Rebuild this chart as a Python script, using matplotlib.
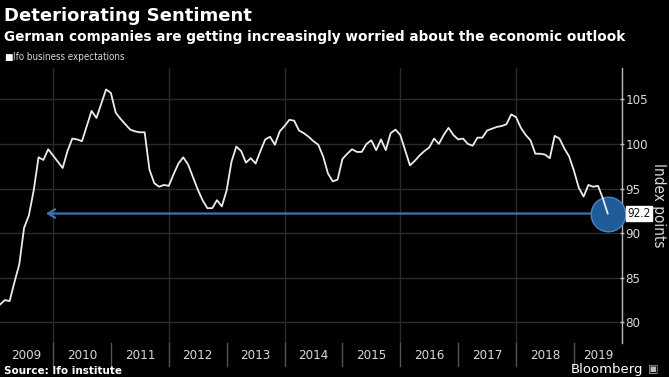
#! /usr/bin/env python3
"""Ifo business expectations, Bloomberg style dark chart."""
import matplotlib

matplotlib.use("Agg")
import matplotlib.pyplot as plt
import numpy as np

# monthly Ifo business expectations, Jan 2009 .. Jul 2019 (index points)
ifo_expect = [
    82.0, 82.5, 82.4, 84.5, 86.5, 90.6, 92.0, 94.8, 98.5, 98.2, 99.4, 98.7,
    98.0, 97.3, 99.2, 100.6, 100.5, 100.3, 102.0, 103.7, 102.9, 104.5, 106.1, 105.7,
    103.5, 102.8, 102.2, 101.6, 101.4, 101.3, 101.3, 97.1, 95.6, 95.2, 95.4, 95.3,
    96.6, 97.8, 98.5, 97.7, 96.3, 94.9, 93.7, 92.8, 92.8, 93.7, 93.0, 94.8,
    98.0, 99.7, 99.2, 97.9, 98.4, 97.8, 99.2, 100.5, 100.8, 99.9, 101.4, 102.0,
    102.7, 102.6, 101.5, 101.2, 100.8, 100.3, 99.9, 98.6, 96.7, 95.8, 96.0, 98.3,
    98.9, 99.4, 99.1, 99.1, 100.0, 100.4, 99.3, 100.5, 99.3, 101.2, 101.6, 101.0,
    99.3, 97.6, 98.1, 98.7, 99.2, 99.6, 100.6, 100.0, 101.0, 101.8, 101.0, 100.5,
    100.6, 100.0, 99.8, 100.7, 100.7, 101.5, 101.7, 101.9, 102.0, 102.2, 103.3, 103.0,
    101.8, 101.0, 100.4, 98.9, 98.9, 98.8, 98.4, 100.9, 100.6, 99.5, 98.6, 97.0,
    95.1, 94.1, 95.4, 95.2, 95.3, 93.9, 92.2,
]
start_year = 2009
years = list(range(2009, 2020))
y_ticks = [80, 85, 90, 95, 100, 105]
last_value = ifo_expect[-1]

BG = "#000000"
GRID = "#2b2b2b"
TXT = "#d9d9d9"
BLUE = "#1f5b99"
narrow = ["Liberation Sans Narrow", "DejaVu Sans"]
cond = dict(family=narrow, fontstretch="condensed")

# month-end positions in decimal years
t = np.array([start_year + (m + 1) / 12 for m in range(len(ifo_expect))])

fig = plt.figure(figsize=(6.69, 3.77), dpi=100, facecolor=BG)
ax = fig.add_axes([0.0, 0.0902, 0.9297, 0.7294], facecolor=BG)
ax.set_xlim(2009.084, 2019.83)
ax.set_ylim(77.7, 108.5)

for yt in y_ticks:
    ax.axhline(yt, color=GRID, lw=1.0, zorder=0)
for yr in years[1::2]:
    ax.axvline(yr, color=GRID, lw=1.0, zorder=0)

# highlight of the latest reading
ax.annotate(
    "",
    xy=(2009.83, last_value),
    xytext=(t[-1], last_value),
    arrowprops=dict(arrowstyle="->,head_length=0.5,head_width=0.3",
                    color="#3f74b3", lw=1.6),
    zorder=2,
)
ax.scatter([t[-1]], [last_value], s=620, color=BLUE, edgecolors="#4d82c2",
           linewidths=1.0, zorder=3, clip_on=False)
ax.plot(t, ifo_expect, color="#ececec", lw=1.3, zorder=4)

# right axis
ax.yaxis.tick_right()
ax.set_yticks(y_ticks)
ax.set_yticklabels([str(v) for v in y_ticks], fontsize=9.5, color=TXT, **cond)
ax.tick_params(axis="y", length=3, width=1, color="#bbbbbb", pad=1, direction="inout")
ax.set_xticks([])
for side in ["top", "left", "bottom"]:
    ax.spines[side].set_visible(False)
ax.spines["right"].set_color("#bbbbbb")
ax.spines["right"].set_linewidth(1.0)
ax.set_ylabel("Index points", rotation=270, color=TXT, fontsize=11,
              labelpad=13, **cond)
ax.yaxis.set_label_position("right")

ax.text(1.008, last_value, f"{last_value}", transform=ax.get_yaxis_transform(),
        va="center", ha="left", fontsize=8.5, color="#111111",
        bbox=dict(boxstyle="square,pad=0.12", fc="white", ec="white"), zorder=6,
        **cond)

# year bands below the plot
for yr in years:
    ax.plot([yr, yr], [0, -0.085], transform=ax.get_xaxis_transform(),
            color="#555555", lw=1.0, clip_on=False)
    lo, hi = max(yr, 2009.084), min(yr + 1, 2019.83)
    ax.text((lo + hi) / 2, -0.045, str(yr), transform=ax.get_xaxis_transform(),
            ha="center", va="center", fontsize=9.5, color=TXT, **cond)

# titles and footer
fig.text(0.006, 0.957, "Deteriorating Sentiment", color="white", fontsize=13,
         fontweight="bold", va="center", ha="left")
fig.text(0.006, 0.902, "German companies are getting increasingly worried about the economic outlook",
         color="white", fontsize=9.8, fontweight="bold", va="center", ha="left")
fig.text(0.006, 0.848, "\u25a0", color="white", fontsize=6.5, va="center", ha="left")
fig.text(0.020, 0.848, "Ifo business expectations", color=TXT, fontsize=7,
         va="center", ha="left", **cond)
fig.text(0.006, 0.016, "Source: Ifo institute", color="white", fontsize=7.5,
         fontweight="bold", va="center", ha="left")
fig.text(0.962, 0.021, "Bloomberg", color="white", fontsize=9.5,
         va="center", ha="right")
fig.text(0.968, 0.021, "\u25a3", color="#bbbbbb", fontsize=8, va="center", ha="left")

fig.savefig("out.png", dpi=100, facecolor=BG)
